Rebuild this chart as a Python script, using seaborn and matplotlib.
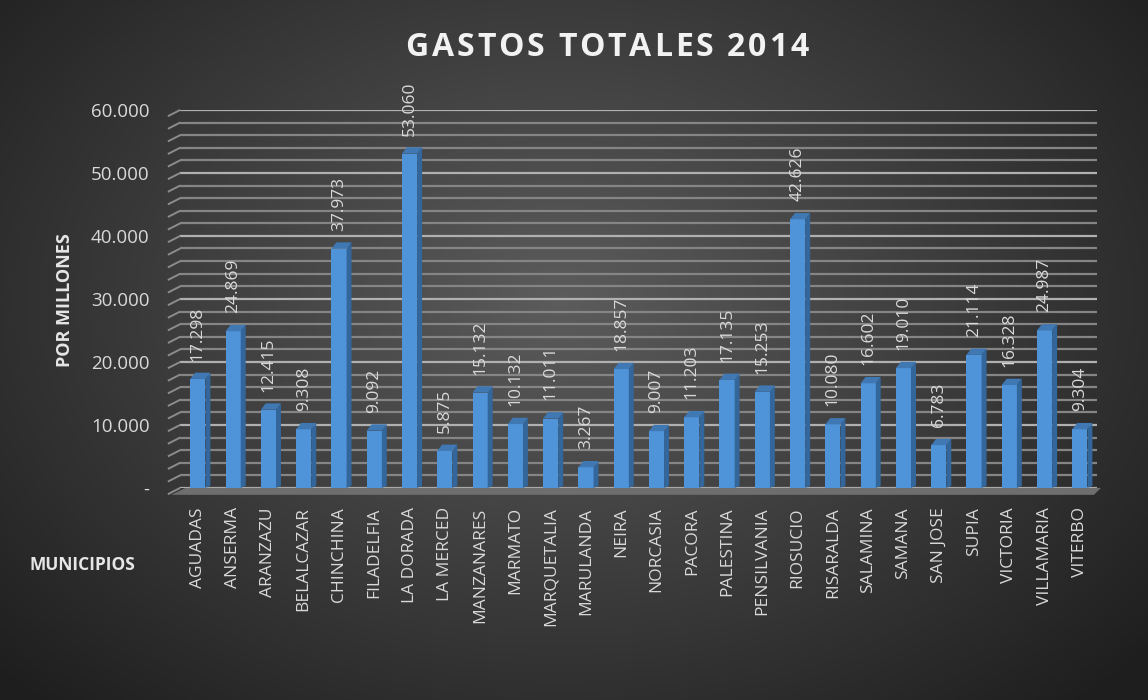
import numpy as np
import pandas as pd
import matplotlib
matplotlib.use("Agg")
import matplotlib.pyplot as plt
import seaborn as sns
from matplotlib.patches import Polygon

municipios = ["AGUADAS", "ANSERMA", "ARANZAZU", "BELALCAZAR", "CHINCHINA", "FILADELFIA",
              "LA DORADA", "LA MERCED", "MANZANARES", "MARMATO", "MARQUETALIA", "MARULANDA",
              "NEIRA", "NORCASIA", "PACORA", "PALESTINA", "PENSILVANIA", "RIOSUCIO",
              "RISARALDA", "SALAMINA", "SAMANA", "SAN JOSE", "SUPIA", "VICTORIA",
              "VILLAMARIA", "VITERBO"]
gastos = [17298, 24869, 12415, 9308, 37973, 9092, 53060, 5875, 15132, 10132, 11011, 3267,
          18857, 9007, 11203, 17135, 15253, 42626, 10080, 16602, 19010, 6783, 21114, 16328,
          24987, 9304]
y_ticks = [0, 10000, 20000, 30000, 40000, 50000, 60000]
y_ticklabels = ["-", "10.000", "20.000", "30.000", "40.000", "50.000", "60.000"]
title = "GASTOS TOTALES 2014"

df = pd.DataFrame({"municipio": municipios, "gasto": gastos})

sns.set_theme(style="white")
plt.rcParams["font.family"] = ["Open Sans", "DejaVu Sans"]
txt = "#d9d9d9"

fig = plt.figure(figsize=(11.48, 7.0), dpi=100)

# radial gradient background
bg = fig.add_axes([0, 0, 1, 1], zorder=-10)
yy, xx = np.mgrid[0:700, 0:1148]
r = np.sqrt(((xx - 560) / 700.0) ** 2 + ((yy - 300) / 500.0) ** 2)
g = np.clip(0.36 - 0.22 * r, 0.12, 0.36)
bg.imshow(np.dstack([g, g, g]), aspect="auto", extent=[0, 1, 0, 1])
bg.set_axis_off()

ax = fig.add_axes([0.157, 0.303, 0.799, 0.540])
ax.set_facecolor("none")

# gridlines (back wall) with slanted side-wall ticks
for k, v in enumerate(range(0, 60001, 2000)):
    col = "#b0b0b0" if k % 5 == 0 else "#858585"
    ax.axhline(v, color=col, lw=1.6, zorder=0)
    ax.plot([-0.85, -0.5], [v - 1000, v], color="#8c8c8c", lw=1.4, zorder=0,
            clip_on=False, solid_capstyle="butt")

sns.barplot(data=df, x="municipio", y="gasto", color="#4f94d9", width=0.43,
            saturation=1, ax=ax, zorder=3, edgecolor="none")

w = 0.43
dx = 0.14
dy = 1000
for i, v in enumerate(gastos):
    x0 = i + w / 2
    side = Polygon([(x0, 0), (x0 + dx, dy * 0.3), (x0 + dx, v + dy), (x0, v)],
                   closed=True, facecolor="#33669b", edgecolor="none", zorder=3)
    ax.add_patch(side)
    top = Polygon([(i - w / 2, v), (i - w / 2 + dx, v + dy), (x0 + dx, v + dy), (x0, v)],
                  closed=True, facecolor="#3f78b3", edgecolor="none", zorder=3)
    ax.add_patch(top)
    ax.annotate(f"{v:,}".replace(",", "."), (i, v), xytext=(0, 13),
                textcoords="offset points", rotation=90, ha="center", va="bottom",
                color=txt, fontsize=12.5)

# floor
floor = Polygon([(-0.75, -1100), (-0.35, 0), (25.6, 0), (25.4, -1100)], closed=True,
                facecolor="#6e6e6e", edgecolor="none", zorder=1, clip_on=False)
ax.add_patch(floor)

ax.set_xlim(-0.5, 25.5)
ax.set_ylim(0, 60000)
ax.set_yticks(y_ticks)
ax.set_yticklabels(y_ticklabels, color=txt, fontsize=13.5)
ax.tick_params(axis="y", length=0, pad=22)
ax.tick_params(axis="x", length=0, pad=14)
ax.set_xticks(range(len(municipios)))
ax.set_xticklabels(municipios, rotation=90, color=txt, fontsize=12.5, va="top")
for s in ax.spines.values():
    s.set_visible(False)
ax.set_xlabel("")
ax.set_ylabel("")

fig.text(0.057, 0.571, "POR MILLONES", rotation=90, ha="center", va="center",
         color="#e6e6e6", fontsize=13, fontweight="bold")
fig.text(0.072, 0.193, "MUNICIPIOS", ha="center", va="center",
         color="#e6e6e6", fontsize=12.5, fontweight="bold")

# letter-spaced title
fig.canvas.draw()
renderer = fig.canvas.get_renderer()
spacing = 2.8  # px
chars = []
total = 0.0
for ch in title:
    t = fig.text(0, 0.932, ch, ha="left", va="center", color="#f2f2f2",
                 fontsize=23, fontweight="bold")
    wpx = t.get_window_extent(renderer).width
    if ch == " ":
        wpx = 23 * 1.389 * 0.26
    chars.append((t, wpx))
    total += wpx
total += spacing * (len(title) - 1)
x = 607 - total / 2
for t, wpx in chars:
    t.set_x(x / 1148.0)
    x += wpx + spacing

fig.savefig("out.png", dpi=100)
